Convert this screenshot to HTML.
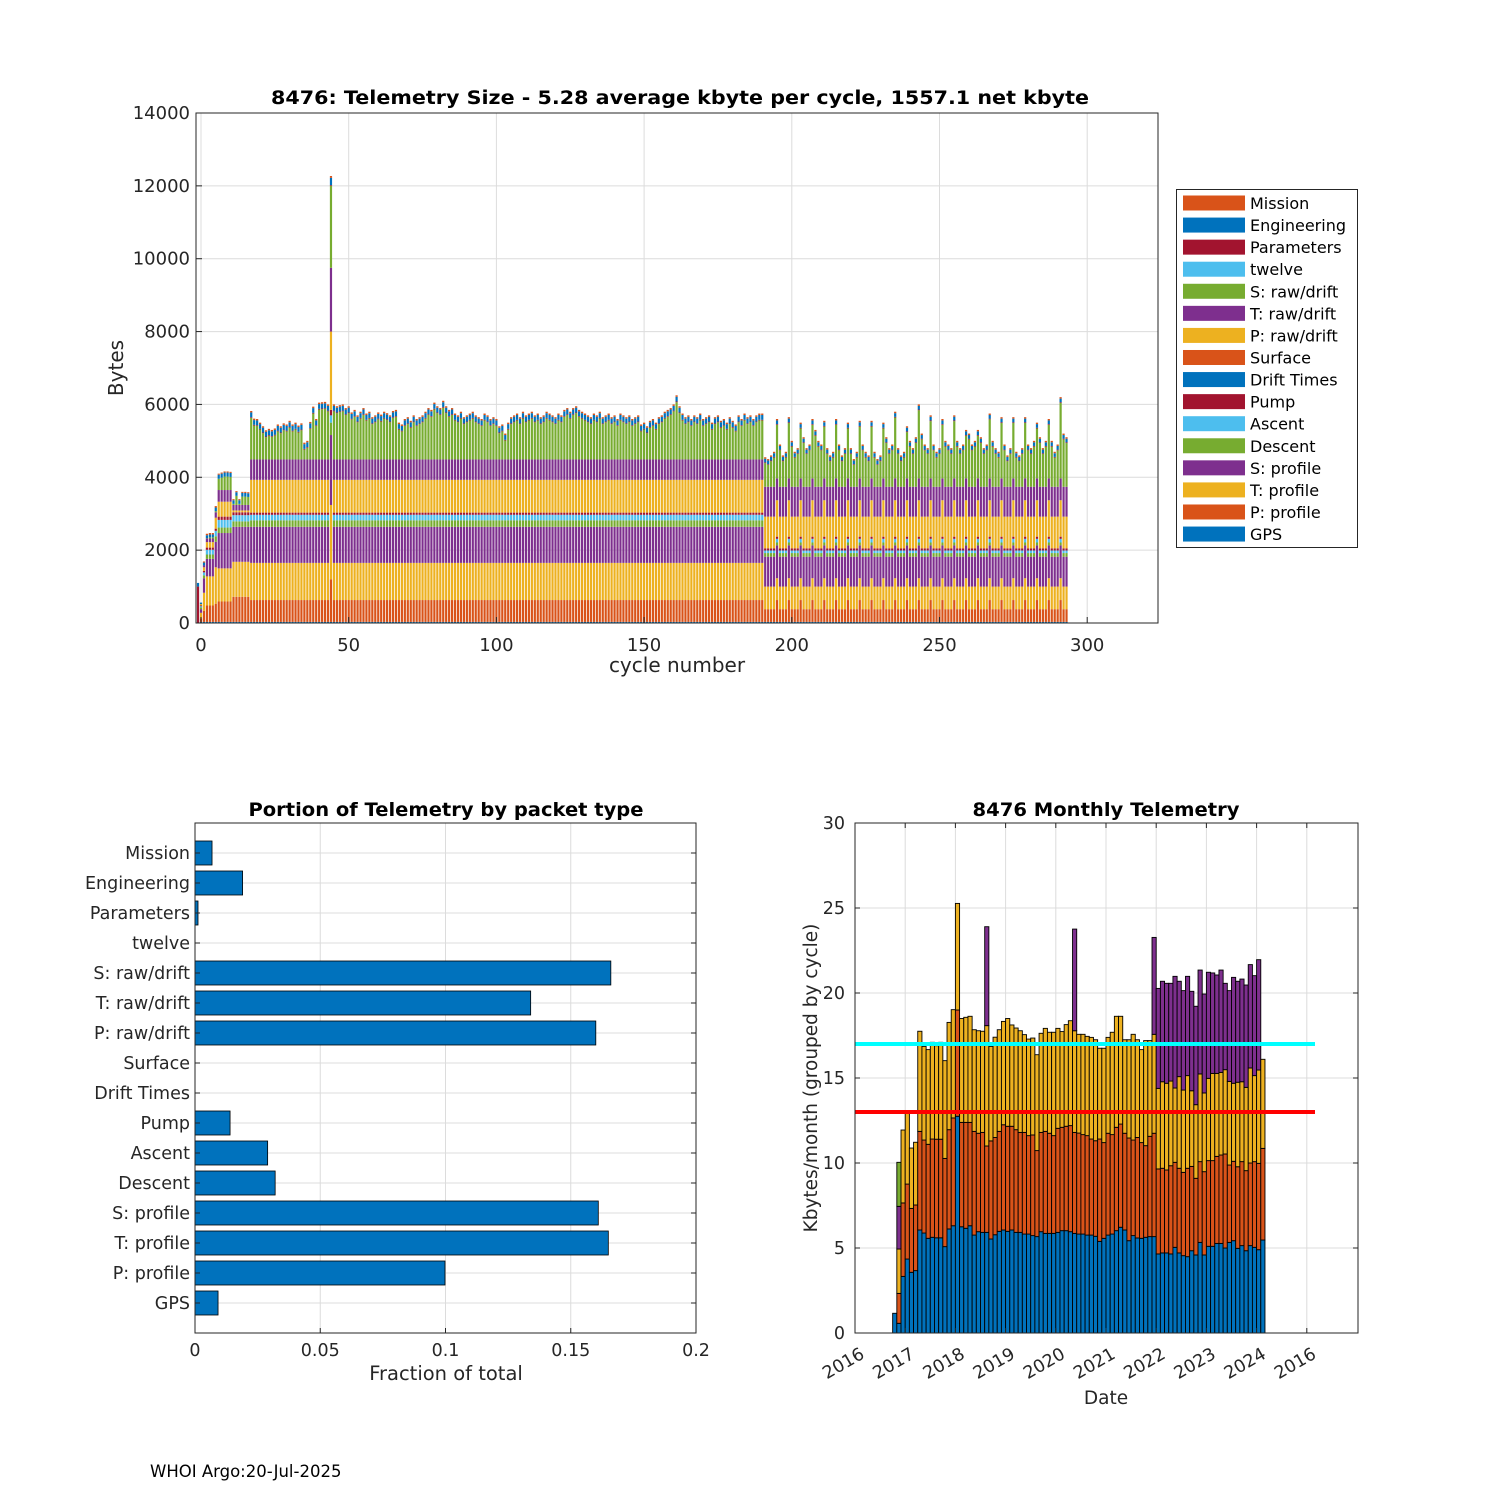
<!DOCTYPE html>
<html><head><meta charset="utf-8"><title>8476 Telemetry</title>
<style>
html,body{margin:0;padding:0;background:#fff;}
svg{display:block;font-family:"DejaVu Sans","Liberation Sans",sans-serif;}
.tk{font-size:18px;fill:#262626;}
.tk2{font-size:17.5px;fill:#262626;}
.ttl{font-weight:bold;fill:#000;}
</style></head>
<body>
<svg id="fig" width="1500" height="1500" viewBox="0 0 1500 1500" xmlns="http://www.w3.org/2000/svg">
<rect x="0" y="0" width="1500" height="1500" fill="#fff"/>

<!-- TOP CHART -->
<g id="top">
  <rect x="196" y="113" width="962" height="510" fill="#fff"/>
  <g id="topGrid"></g>
  <g id="topBars"></g>
  <rect x="196" y="113" width="962" height="510" fill="none" stroke="#262626" stroke-width="1"/>
  <g id="topTicks"></g>
  <text x="680" y="104" text-anchor="middle" class="ttl" font-size="18.5" textLength="818" lengthAdjust="spacingAndGlyphs">8476: Telemetry Size - 5.28 average kbyte per cycle, 1557.1 net kbyte</text>
  <text x="677" y="672" text-anchor="middle" font-size="20" fill="#262626">cycle number</text>
  <text transform="translate(123,368) rotate(-90)" text-anchor="middle" font-size="20" fill="#262626">Bytes</text>
  <g id="legend">
    <rect x="1176.5" y="189.5" width="181" height="358" fill="#fff" stroke="#262626" stroke-width="1"/>
  </g>
</g>

<!-- BOTTOM LEFT -->
<g id="bl">
  <g id="blGrid"></g>
  <g id="blBars"></g>
  <rect x="195" y="823" width="501" height="510" fill="none" stroke="#262626" stroke-width="1"/>
  <g id="blTicks"></g>
  <text x="446" y="816" text-anchor="middle" class="ttl" font-size="19" textLength="395" lengthAdjust="spacingAndGlyphs">Portion of Telemetry by packet type</text>
  <text x="446" y="1380" text-anchor="middle" font-size="19.5" fill="#262626">Fraction of total</text>
</g>

<!-- BOTTOM RIGHT -->
<g id="br">
  <g id="brGrid"></g>
  <g id="brBars"></g>
  <g id="brLines"></g>
  <rect x="855" y="823" width="503" height="510" fill="none" stroke="#262626" stroke-width="1"/>
  <g id="brTicks"></g>
  <text x="1106" y="816" text-anchor="middle" class="ttl" font-size="19" textLength="267" lengthAdjust="spacingAndGlyphs">8476 Monthly Telemetry</text>
  <text x="1106" y="1404" text-anchor="middle" font-size="18.5" fill="#262626">Date</text>
  <text transform="translate(817,1078) rotate(-90)" text-anchor="middle" font-size="18.5" fill="#262626">Kbytes/month (grouped by cycle)</text>
</g>

<text x="150" y="1477" font-size="16.5" fill="#000">WHOI Argo:20-Jul-2025</text>
</svg>

<script>
// ===== TOP CHART DATA =====
const compNames = ['GPS','P: profile','T: profile','S: profile','Descent','Ascent','Pump','Drift Times','Surface','P: raw/drift','T: raw/drift','S: raw/drift','twelve','Parameters','Engineering','Mission'];
const compColors = ['#0072BD','#D95319','#EDB120','#7E2F8E','#77AC30','#4DBEEE','#A2142F','#0072BD','#D95319','#EDB120','#7E2F8E','#77AC30','#4DBEEE','#A2142F','#0072BD','#D95319'];
// per-mode byte values for each component (S: raw/drift comes from sRawDrift per cycle)
const modeZ = [0,0,0,0,0,0,0,0,0,0,0,0,0,1000,100,0];
const mode0 = [30,100,150,100,50,30,20,0,0,40,0,0,0,0,40,0];
const mode1 = [30,300,500,400,80,80,40,0,0,100,50,0,0,0,80,30];
const mode2 = [30,450,800,480,120,130,60,0,0,150,100,0,0,0,80,40];
const mode3 = [30,500,1000,700,150,150,60,0,0,300,150,0,0,0,100,40];
const mode4 = [30,560,910,970,150,210,90,0,0,410,320,0,0,0,110,30];
const mode5 = [30,690,960,960,150,170,80,0,0,50,150,0,0,0,100,30];
const modeA = [30,600,1020,990,180,150,60,0,0,900,560,0,0,20,130,40];
const modeP = [30,1170,2040,1920,340,200,150,0,0,2150,1750,0,0,20,200,50];
const modeT = [30,600,600,900,80,100,60,0,0,1000,600,0,0,20,100,40];
const modeS = [30,350,620,820,100,70,60,0,0,870,820,0,0,20,100,40];
const firstCycle = -1;
const modeRuns = [['z',1],['0',1],['1',1],['2',3],['3',1],['4',5],['5',6],['a',27],['p',1],['a',146],['s',4],
 ['t',1],['s',3],['t',1],['s',3],['t',1],['s',3],['t',1],['s',3],['t',1],['s',3],['t',1],['s',3],
 ['t',1],['s',3],['t',1],['s',3],['t',1],['s',3],['t',1],['s',3],['t',1],['s',3],['t',1],['s',3],
 ['t',1],['s',3],['t',1],['s',3],['t',1],['s',3],['t',1],['s',3],['t',1],['s',3],['t',1],['s',3],
 ['t',1],['s',3],['t',1],['s',3],['t',1],['s',3],['t',1],['s',3],['t',1],['s',3],['t',1],['s',3],
 ['t',1],['s',2]];
const sRawDrift = [
 0,0,0,10,30,30,30,310,340,370,370,360,30,250,30,230,230,220,
 1140,930,920,820,720,610,650,620,660,770,720,800,770,870,770,820,740,800,270,320,840,1260,920,1370,1380,1390,1320,
 2250,
 1320,1270,1300,1320,1220,1270,
 1100,1170,1020,1120,1220,1070,1120,970,1020,1100,1040,1120,1080,1020,1140,1170,
 820,770,920,970,870,1020,920,970,1020,
 1120,1220,1170,1370,1270,1220,1420,1270,1170,1220,
 1070,1020,1120,970,1020,1070,1120,1020,970,920,1070,1020,920,970,920,
 720,770,520,820,970,
 1020,1070,970,1120,1020,1070,1120,1020,1070,970,1020,1120,1070,1020,970,1070,1020,
 1170,1220,1120,1220,1270,1170,1120,1070,
 1020,970,1070,1020,1120,970,1020,1070,970,1020,920,1070,1020,970,1020,920,970,1020,
 770,820,720,870,920,820,970,1020,
 1120,1170,1220,1320,1570,1270,
 1070,970,1020,920,1020,970,1070,920,970,1020,820,970,1020,
 870,920,820,970,870,770,1020,920,1070,970,1020,920,1020,1070,
 1070,
 650,600,700,800,
 1470,1000,700,800, 1520,1100,800,900, 1370,1200,900,1000, 1470,1400,1100,1000,
 1420,900,700,800, 1470,1000,700,900, 1370,900,600,800, 1420,1000,800,700,
 1420,800,600,700, 1370,1200,900,1000, 1670,900,700,800, 1270,1100,900,1200,
 1870,1300,1000,900, 1570,1000,800,900, 1470,1100,1000,900, 1570,1100,900,1000,
 1170,1300,1000,1100, 1170,1200,900,1000, 1620,1100,900,800, 1520,1000,700,900,
 1520,800,700,900, 1520,1000,900,1100, 1370,1200,900,1100, 1470,1100,800,1000,
 2070,1300,1200];
const topXTicks = [0,50,100,150,200,250,300];
const topYTicks = [0,2000,4000,6000,8000,10000,12000,14000];

// ===== BOTTOM LEFT DATA =====
const packetTypes = ['Mission','Engineering','Parameters','twelve','S: raw/drift','T: raw/drift','P: raw/drift','Surface','Drift Times','Pump','Ascent','Descent','S: profile','T: profile','P: profile','GPS'];
const packetFractions = [0.0068,0.019,0.0012,0,0.166,0.134,0.160,0,0,0.014,0.029,0.032,0.161,0.165,0.0998,0.0092];
const fracTicks = [0,0.05,0.1,0.15,0.2];
const fracTickLabels = ['0','0.05','0.1','0.15','0.2'];

// ===== BOTTOM RIGHT DATA =====
const firstMonthIndex = 9; // months since Jan 2016 (Oct 2016)
const monthBlue = [1.16,0.57,3.33,4.35,3.57,3.67,6.06,5.88,5.57,5.63,5.6,5.6,5.08,6.12,6.31,12.75,6.25,6.16,6.31,5.76,5.96,5.92,5.92,5.53,5.78,5.98,6.06,5.98,6.06,5.92,5.92,5.82,5.82,5.73,5.67,5.96,5.86,5.86,5.86,5.92,6.02,6.02,5.96,5.86,5.82,5.82,5.76,5.76,5.69,5.39,5.57,5.76,5.82,6.02,6.22,6.06,5.43,5.73,5.59,5.57,5.63,5.67,5.67,4.65,4.71,4.71,4.65,5.04,4.71,4.55,4.49,4.84,4.59,5.33,4.59,5.1,5.1,5.27,5.27,5.0,5.33,5.43,4.98,5.14,4.84,5.14,5.04,4.9,5.47];
const monthOrange = [0,1.76,4.32,4.41,3.76,3.86,5.8,5.47,5.53,5.78,5.8,5.8,5.19,5.84,6.34,6.25,6.14,6.23,6.08,6.1,5.79,5.88,5.08,5.77,5.72,5.88,6.19,6.18,6.1,6.04,5.88,5.98,5.79,5.92,5.06,5.84,6.0,5.89,5.75,6.12,6.08,6.14,6.24,5.94,5.94,5.85,5.85,5.65,5.62,6.02,5.63,5.99,5.85,6.08,6.07,5.69,6.04,5.62,5.91,5.63,5.39,5.9,6.08,5.0,4.98,4.88,5.19,5.0,4.98,4.9,5.2,4.96,4.51,4.75,4.9,5.04,5.04,5.12,5.2,5.53,4.55,4.67,4.8,4.94,4.71,4.86,5.04,5.08,5.39];
const monthYellow = [0,2.61,4.29,4.18,3.55,3.69,5.89,5.51,5.57,5.69,5.5,5.7,5.75,6.31,6.37,6.27,6.11,6.18,6.24,5.98,6.03,5.95,7.08,5.56,5.9,5.98,6.08,6.34,5.96,5.98,5.98,5.75,5.68,5.7,5.64,5.83,6.06,5.94,6.08,5.88,5.63,5.98,6.17,5.98,5.81,5.9,5.84,5.98,5.94,5.34,5.55,5.64,6.02,6.53,6.34,5.5,5.78,6.22,5.75,5.47,6.18,5.63,5.82,4.74,5.09,5.1,4.98,4.37,5.39,4.84,5.45,4.45,4.33,5.16,4.63,4.84,5.13,4.88,4.86,4.96,4.92,4.59,4.97,4.7,4.9,5.59,5.06,5.49,5.24];
const monthPurple = [0,2.51,0,0,0,0,0,0,0,0,0,0,0,0,0,0,0,0,0,0,0,0,5.82,0,0,0,0,0,0,0,0,0,0,0,0,0,0,0,0,0,0,0,0,5.98,0,0,0,0,0,0,0,0,0,0,0,0,0,0,0,0,0,0,5.7,5.88,5.91,5.88,5.75,6.57,5.61,5.85,5.84,5.85,5.79,6.11,5.82,6.24,5.91,5.79,6.02,5.08,5.34,6.23,5.94,6.04,6.02,6.08,5.88,6.49,0];
const monthGreen = [0,2.59,0,0,0,0,0,0,0,0,0,0,0,0,0,0,0,0,0,0,0,0,0,0,0,0,0,0,0,0,0,0,0,0,0,0,0,0,0,0,0,0,0,0,0,0,0,0,0,0,0,0,0,0,0,0,0,0,0,0,0,0,0,0,0,0,0,0,0,0,0,0,0,0,0,0,0,0,0,0,0,0,0,0,0,0,0,0,0];
const monthSeriesColors = ['#0072BD','#D95319','#EDB120','#7E2F8E','#77AC30'];
const refLineValues = [17,13];
const refLineColors = ['#00FFFF','#FF0000'];
const monthYTicks = [0,5,10,15,20,25,30];
const dateTickYears = [0,1,2,3,4,5,6,7,8,9];
const dateTickLabels = ['2016','2017','2018','2019','2020','2021','2022','2023','2024','2016'];

const NS = 'http://www.w3.org/2000/svg';
function mk(tag, attrs, parent){ const e=document.createElementNS(NS,tag); for(const k in attrs) e.setAttribute(k,attrs[k]); parent.appendChild(e); return e; }
const $ = id => document.getElementById(id);

// ---- top axes ----
const xTop = c => 201 + c*2.954;
const yTop = v => 623 - v*(510/14000);
const modeLookup = {z:modeZ,'0':mode0,'1':mode1,'2':mode2,'3':mode3,'4':mode4,'5':mode5,a:modeA,p:modeP,t:modeT,s:modeS};
const modes = [];
modeRuns.forEach(r => { for(let i=0;i<r[1];i++) modes.push(r[0]); });

topXTicks.forEach(t => {
  const g = mk('line',{x1:xTop(t),x2:xTop(t),y1:113,y2:623,stroke:'#dcdcdc','stroke-width':1},$('topGrid'));
  
  
  const tk = mk('line',{x1:xTop(t),x2:xTop(t),y1:623,y2:617,stroke:'#262626'},$('topTicks'));
  
  
  const tl = mk('text',{x:xTop(t),y:651,'text-anchor':'middle',class:'tk'},$('topTicks'));
  tl.textContent = String(t);
  
  
});
topYTicks.forEach(t => {
  const g = mk('line',{x1:196,x2:1158,y1:yTop(t),y2:yTop(t),stroke:'#dcdcdc','stroke-width':1},$('topGrid'));
  
  
  const tk = mk('line',{x1:196,x2:202,y1:yTop(t),y2:yTop(t),stroke:'#262626'},$('topTicks'));
  
  
  const tl = mk('text',{x:190,y:yTop(t)+6,'text-anchor':'end',class:'tk'},$('topTicks'));
  tl.textContent = String(t);
  
  
});

const barW = 2.2;
modes.forEach((m, k) => {
  const cyc = firstCycle + k;
  const vals = modeLookup[m];
  let acc = 0;
  for (let j=0;j<16;j++){
    const v = (j===11) ? sRawDrift[k] : vals[j];
    if (!v) continue;
    const r = mk('rect',{x:xTop(cyc)-barW/2,y:yTop(acc+v),width:barW,height:yTop(acc)-yTop(acc+v),fill:compColors[j]},$('topBars'));
    
    
    acc += v;
  }
});

// legend
for (let i=0;i<16;i++){
  const j = 15-i;
  const sw = mk('rect',{x:1183,y:195.5+i*22.07,width:62,height:15,fill:compColors[j]},$('legend'));
  
  
  const t = mk('text',{x:1250,y:209+i*22.07,'font-size':16,fill:'#000'},$('legend'));
  t.textContent = compNames[j];
  
  
}

// ---- bottom left ----
const xBL = v => 195 + v*2505;
const yBL = j => 823 + (j+1)*30;
fracTicks.forEach((t,i) => {
  const g = mk('line',{x1:xBL(t),x2:xBL(t),y1:823,y2:1333,stroke:'#dcdcdc'},$('blGrid'));
  
  
  const tl = mk('text',{x:xBL(t),y:1356,'text-anchor':'middle',class:'tk2'},$('blTicks'));
  tl.textContent = fracTickLabels[i];
  
  
  const tk = mk('line',{x1:xBL(t),x2:xBL(t),y1:1333,y2:1328,stroke:'#262626'},$('blTicks'));
  
  
});
packetTypes.forEach((p,j) => {
  const g = mk('line',{x1:195,x2:696,y1:yBL(j),y2:yBL(j),stroke:'#dcdcdc'},$('blGrid'));
  
  
  const v = packetFractions[j];
  if (v>0){
    const r = mk('rect',{x:xBL(0),y:yBL(j)-12,width:xBL(v)-xBL(0),height:24,fill:'#0072BD',stroke:'#000','stroke-width':0.8},$('blBars'));
    
    
  }
  const tl = mk('text',{x:190,y:yBL(j)+6,'text-anchor':'end',class:'tk2'},$('blTicks'));
  tl.textContent = p;
  
  
  const tk = mk('line',{x1:195,x2:200,y1:yBL(j),y2:yBL(j),stroke:'#262626'},$('blTicks'));
  
  
  const tk2 = mk('line',{x1:691,x2:696,y1:yBL(j),y2:yBL(j),stroke:'#262626'},$('blTicks'));
  
  
});

// ---- bottom right ----
const monthW = 50.2/12;
const xBR = m => 855 + m*monthW;
const yBR = v => 1333 - v*17;
monthYTicks.forEach(t => {
  const g = mk('line',{x1:855,x2:1358,y1:yBR(t),y2:yBR(t),stroke:'#dcdcdc'},$('brGrid'));
  
  
  const tl = mk('text',{x:845,y:yBR(t)+6,'text-anchor':'end',class:'tk2'},$('brTicks'));
  tl.textContent = String(t);
  
  
  const tk = mk('line',{x1:855,x2:860,y1:yBR(t),y2:yBR(t),stroke:'#262626'},$('brTicks'));
  
  
  const tk2 = mk('line',{x1:1353,x2:1358,y1:yBR(t),y2:yBR(t),stroke:'#262626'},$('brTicks'));
  
  
});
dateTickYears.forEach((yr,i) => {
  const x = xBR(yr*12);
  const g = mk('line',{x1:x,x2:x,y1:823,y2:1333,stroke:'#dcdcdc'},$('brGrid'));
  
  
  const tk = mk('line',{x1:x,x2:x,y1:1333,y2:1328,stroke:'#262626'},$('brTicks'));
  
  
  const tkt = mk('line',{x1:x,x2:x,y1:823,y2:828,stroke:'#262626'},$('brTicks'));
  
  
  const tl = mk('text',{transform:'translate('+(x+4)+',1346) rotate(-30)','text-anchor':'end',x:0,y:13,class:'tk2'},$('brTicks'));
  tl.textContent = dateTickLabels[i];
  
  
});
const monthSeries = [monthBlue, monthOrange, monthYellow, monthPurple, monthGreen];
monthBlue.forEach((_, i) => {
  const m = firstMonthIndex + i;
  let acc = 0;
  monthSeries.forEach((ser, s) => {
    const v = ser[i];
    if (!v) return;
    const r = mk('rect',{x:xBR(m),y:yBR(acc+v),width:monthW,height:yBR(acc)-yBR(acc+v),fill:monthSeriesColors[s],stroke:'#000','stroke-width':0.9},$('brBars'));
    
    
    acc += v;
  });
});
refLineValues.forEach((v,i) => {
  const l = mk('line',{x1:855,x2:1315,y1:yBR(v),y2:yBR(v),stroke:refLineColors[i],'stroke-width':4},$('brLines'));
  
  
});
</script>
</body></html>
